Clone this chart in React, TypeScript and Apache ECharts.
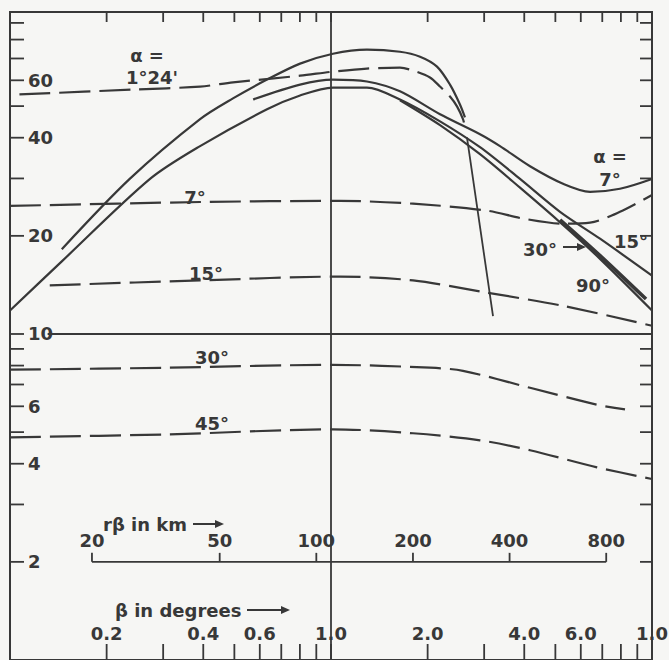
import React, { useEffect, useRef } from "react";
import * as echarts from "echarts";

// ---- data (β in degrees, value) ----
const solidA124 = [[0.145,18.2],[0.236,29.9],[0.391,45.6],[0.495,52.8],[0.632,60.3],[0.801,67.5],[1.014,72.4],[1.294,74.5],[1.64,73.4],[1.894,70.9],[2.139,66.1],[2.348,58.2],[2.522,50.6],[2.614,46.2]];
const dashedA124 = [[0.107,54.3],[0.242,56.2],[0.391,57.4],[0.495,59.1],[0.801,62.0],[1.014,63.8],[1.294,65.2],[1.64,65.6],[1.801,64.3],[2.034,61.2],[2.186,57.4],[2.348,53.5],[2.469,49.9],[2.577,45.6],[2.614,43.1]];
const cutoffLine = [[2.652,40.1],[3.197,11.35]];
const solidA7 = [[0.572,52.4],[0.801,58.2],[1.014,60.3],[1.294,59.5],[1.64,55.5],[2.186,47.2],[2.912,41.0],[3.361,37.7],[4.169,32.7],[5.282,28.9],[6.412,27.3],[7.947,27.9],[10,29.9]];
const solidA15 = [[0.1,11.8],[0.145,16.7],[0.273,29.9],[0.391,37.7],[0.632,48.9],[0.801,53.9],[1.014,57.0],[1.294,57.0],[1.64,52.4],[2.186,44.9],[2.912,37.4],[3.88,29.9],[5.17,23.7],[6.887,19.6],[10,15.1]];
const solidA90 = [[1.64,52.1],[2.186,43.7],[2.912,35.6],[3.88,28.1],[5.282,21.6],[6.887,17.0],[10,11.8]];
const solidA30 = [[5.17,22.4],[6.887,17.4],[9.58,12.8]];
const dashedA7 = [[0.1,24.7],[0.391,25.4],[1.066,25.6],[1.801,25.1],[3.062,23.9],[3.964,22.6],[5.282,21.8],[6.412,21.96],[7.947,23.7],[10,26.7]];
const dashedA15 = [[0.133,14.1],[0.391,14.6],[1.066,15.0],[1.801,14.6],[2.912,13.5],[5.282,12.2],[10,10.6]];
const dashedA30 = [[0.1,7.77],[0.308,7.88],[1.014,8.04],[2.034,7.88],[2.577,7.71],[4.169,6.84],[6.741,6.07],[8.24,5.87]];
const dashedA45 = [[0.1,4.82],[0.308,4.92],[1.014,5.10],[1.801,4.96],[2.912,4.72],[4.169,4.40],[6.741,3.90],[10,3.59]];

// ---- axes ----
const X_MIN = 0.1, X_MAX = 10;
const Y_MIN = 1, Y_MAX = 97.2;
const xTicks = [0.2,0.3,0.4,0.5,0.6,0.7,0.8,0.9,1,2,3,4,5,6,7,8,9];
const yTicks = [2,3,4,5,6,7,8,9,10,20,30,40,50,60,70,80,90];
const xLabelValues = [0.2,0.4,0.6,1,2,4,6,10];
const xLabelTexts = ["0.2","0.4","0.6","1.0","2.0","4.0","6.0","1.0"];
const yLabelValues = [60,40,20,10,6,4,2];
const yLabelTexts = ["60","40","20","10","6","4","2"];
const KM_PER_DEG = 111.1;
const kmTicks = [20,50,100,200,400,800];
const kmLevel = 2;
const tenLine = [[0.131,10],[10,10]];
const oneLine = [[1,Y_MIN],[1,Y_MAX]];

const INK = "#383838";
const FONT = "DejaVu Sans";
const FS = 18;
const DASH = [31, 9];

function lineSeries(data: number[][], dashed: boolean, width = 2.2, smooth: number | boolean = 0.3) {
  return {
    type: "line",
    data,
    smooth,
    symbol: "none",
    silent: true,
    lineStyle: { color: INK, width, type: dashed ? DASH : "solid", cap: "butt" },
  };
}

function tickSeries(values: number[], make: (api: any, v: number) => number[]) {
  return {
    type: "custom",
    silent: true,
    clip: false,
    data: values.map((v) => [v, 2]),
    renderItem: (_p: any, api: any) => {
      const s = make(api, api.value(0));
      return { type: "line", shape: { x1: s[0], y1: s[1], x2: s[2], y2: s[3] }, style: { stroke: INK, lineWidth: 1.8 } };
    },
  };
}

function labelSeries(values: number[], texts: string[], make: (api: any, v: number) => number[], align: string) {
  return {
    type: "custom",
    silent: true,
    clip: false,
    data: values.map((v) => [v, 2]),
    renderItem: (params: any, api: any) => {
      const p = make(api, api.value(0));
      return {
        type: "text",
        x: p[0],
        y: p[1],
        style: {
          text: texts[params.dataIndex],
          fill: INK,
          fontFamily: FONT,
          fontWeight: "bold",
          fontSize: FS,
          align,
          verticalAlign: "middle",
          textAlign: align,
          textVerticalAlign: "middle",
        },
      };
    },
  };
}

function txt(text: string, x: number, y: number, align = "center", size = FS) {
  return {
    type: "text",
    x,
    y,
    silent: true,
    style: { text, fill: INK, fontFamily: FONT, fontWeight: "bold", fontSize: size, align, verticalAlign: "middle", textAlign: align, textVerticalAlign: "middle" },
  };
}

function arrow(x1: number, x2: number, y: number) {
  return [
    { type: "line", silent: true, shape: { x1, y1: y, x2: x2 - 6, y2: y }, style: { stroke: INK, lineWidth: 2 } },
    { type: "polygon", silent: true, shape: { points: [[x2, y], [x2 - 9, y - 4], [x2 - 9, y + 4]] }, style: { fill: INK } },
  ];
}

export default function App() {
  const ref = useRef<HTMLDivElement>(null);
  useEffect(() => {
    const chart = echarts.init(ref.current!, null, { renderer: "svg" });
    const option: any = {
      animation: false,
      backgroundColor: "#f6f6f4",
      grid: { left: 10, top: 12, width: 642, height: 652, show: true, borderColor: INK, borderWidth: 2, backgroundColor: "transparent" },
      xAxis: { type: "log", logBase: 10, min: X_MIN, max: X_MAX, axisLine: { show: false }, axisTick: { show: false }, axisLabel: { show: false }, splitLine: { show: false } },
      yAxis: { type: "log", logBase: 10, min: Y_MIN, max: Y_MAX, axisLine: { show: false }, axisTick: { show: false }, axisLabel: { show: false }, splitLine: { show: false } },
      series: [
        lineSeries(tenLine, false, 1.8, false),
        lineSeries(oneLine, false, 1.8, false),
        lineSeries(solidA124, false),
        lineSeries(dashedA124, true),
        lineSeries(cutoffLine, false, 1.8, false),
        lineSeries(solidA7, false),
        lineSeries(solidA15, false),
        lineSeries(solidA90, false),
        lineSeries(solidA30, false, 3.6),
        lineSeries(dashedA7, true),
        lineSeries(dashedA15, true),
        lineSeries(dashedA30, true),
        lineSeries(dashedA45, true),
        lineSeries(kmTicks.filter((_, i) => i === 0 || i === kmTicks.length - 1).map((k) => [k / KM_PER_DEG, kmLevel]), false, 1.8, false),
        // km scale ticks
        tickSeries(kmTicks.map((k) => k / KM_PER_DEG), (api, v) => { const p = api.coord([v, kmLevel]); return [p[0], p[1] - 9, p[0], p[1]]; }),
        labelSeries(kmTicks.map((k) => k / KM_PER_DEG), kmTicks.map(String), (api, v) => { const p = api.coord([v, kmLevel]); return [p[0], p[1] - 21]; }, "center"),
        // frame ticks
        tickSeries(xTicks, (api, v) => { const p = api.coord([v, Y_MIN]); return [p[0], p[1] - 16, p[0], p[1]]; }),
        tickSeries(xTicks, (api, v) => { const p = api.coord([v, Y_MAX]); return [p[0], p[1], p[0], p[1] + 10]; }),
        tickSeries(yTicks, (api, v) => { const p = api.coord([X_MIN, v]); return [p[0], p[1], p[0] + 14, p[1]]; }),
        tickSeries(yTicks, (api, v) => { const p = api.coord([X_MAX, v]); return [p[0] - 12, p[1], p[0], p[1]]; }),
        labelSeries(xLabelValues, xLabelTexts, (api, v) => { const p = api.coord([v, Y_MIN]); return [p[0], p[1] - 27]; }, "center"),
        labelSeries(yLabelValues, yLabelTexts, (api, v) => { const p = api.coord([X_MIN, v]); return [p[0] + 18, p[1]]; }, "left"),
      ],
      graphic: [
        txt("α =", 147, 55),
        txt("1°24'", 152, 77),
        txt("7°", 195, 197),
        txt("15°", 206, 273),
        txt("30°", 212, 357),
        txt("45°", 212, 423),
        txt("α =", 610, 156),
        txt("7°", 610, 179),
        txt("15°", 631, 241),
        txt("30°", 540, 249),
        txt("90°", 593, 285),
        txt("rβ in km", 103, 524, "left"),
        txt("β in degrees", 115, 610, "left"),
        ...arrow(563, 586, 247),
        ...arrow(193, 224, 524),
        ...arrow(247, 290, 610),
      ],
    };
    chart.setOption(option);
    return () => chart.dispose();
  }, []);
  return <div ref={ref} style={{ position: "fixed", left: 0, top: 0, width: 669, height: 660 }} />;
}
